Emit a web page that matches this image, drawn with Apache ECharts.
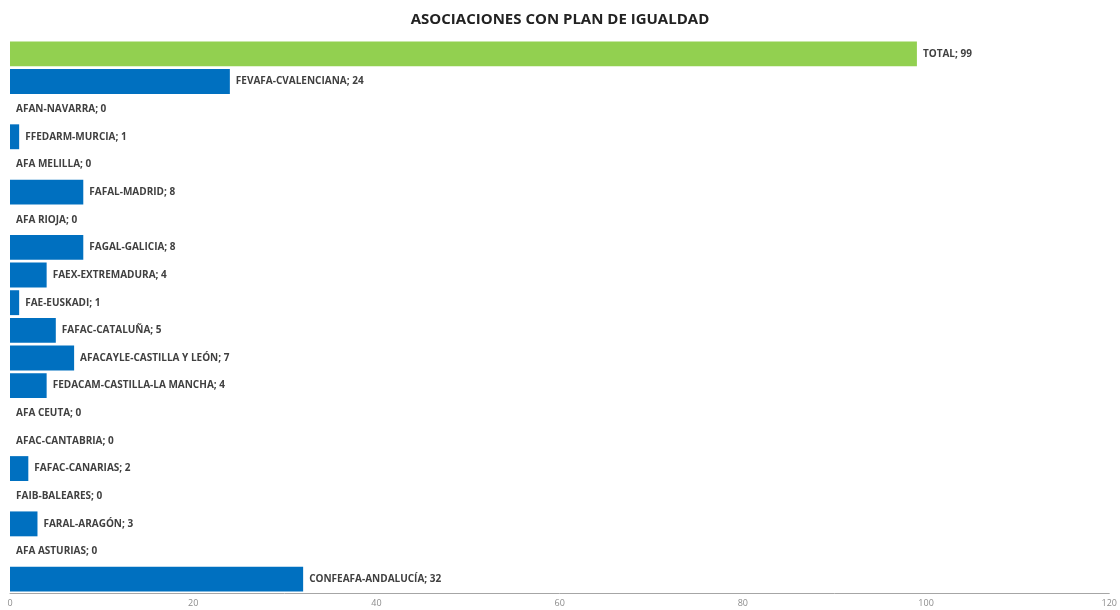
<!DOCTYPE html>
<html><head><meta charset="utf-8">
<script src="https://cdn.jsdelivr.net/npm/echarts@6/dist/echarts.min.js"></script>
<style>html,body{margin:0;padding:0;background:#fff}#c{width:1120px;height:610px}</style>
</head><body><div id="c"></div>
<script>
const categories = ["CONFEAFA-ANDALUCÍA","AFA ASTURIAS","FARAL-ARAGÓN","FAIB-BALEARES","FAFAC-CANARIAS","AFAC-CANTABRIA","AFA CEUTA","FEDACAM-CASTILLA-LA MANCHA","AFACAYLE-CASTILLA Y LEÓN","FAFAC-CATALUÑA","FAE-EUSKADI","FAEX-EXTREMADURA","FAGAL-GALICIA","AFA RIOJA","FAFAL-MADRID","AFA MELILLA","FFEDARM-MURCIA","AFAN-NAVARRA","FEVAFA-CVALENCIANA","TOTAL"];
const values = [32,0,3,0,2,0,0,4,7,5,1,4,8,0,8,0,1,0,24,99];
const totalCategory = "TOTAL";
const xTicks = {min:0, max:120, interval:20};

const chart = echarts.init(document.getElementById('c'), null, {renderer:'canvas'});
chart.setOption({
  animation:false,
  title:{text:'ASOCIACIONES CON PLAN DE IGUALDAD', left:'center', top:7,
    textStyle:{fontFamily:'Open Sans', fontWeight:'bold', fontSize:15, color:'#222'}},
  grid:{left:10, right:10, top:40, bottom:17, containLabel:false},
  xAxis:{type:'value', min:xTicks.min, max:xTicks.max, interval:xTicks.interval,
    splitLine:{show:false}, axisTick:{show:false},
    axisLine:{show:true, lineStyle:{color:'#a6a6a6', width:1}},
    axisLabel:{color:'#8c8c8c', fontSize:9, fontFamily:'Open Sans', margin:6}},
  yAxis:{type:'category', data:categories, show:false},
  series:[{type:'bar', barCategoryGap:'10%',
    data: values.map((v,i)=>({value:v, itemStyle:{color: categories[i]===totalCategory ? '#92D050' : '#0070C0'}})),
    label:{show:true, position:'right', distance:6, formatter:'{b}; {c}',
      fontFamily:'Open Sans', fontWeight:'bold', fontSize:10, color:'#404040'}
  }]
});
</script></body></html>
